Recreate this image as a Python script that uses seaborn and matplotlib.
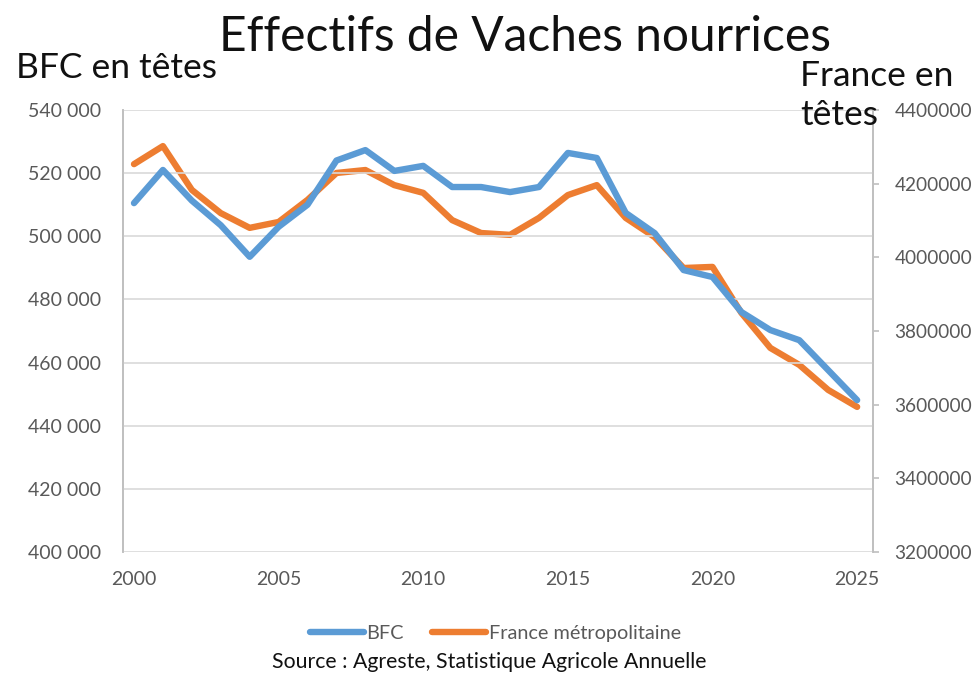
import pandas as pd
import matplotlib.pyplot as plt
import seaborn as sns
from matplotlib.ticker import FuncFormatter, MultipleLocator

# données
annees = list(range(2000, 2026))
bfc = [510500, 521000, 511300, 503500, 493500, 503000, 510000, 524000, 527300, 520700,
       522300, 515600, 515600, 514000, 515600, 526400, 524800, 507400, 501000, 489300,
       487100, 476000, 470300, 467100, 457600, 448100]
france = [4253000, 4302000, 4183000, 4120000, 4080000, 4096000, 4156000, 4229000, 4237000, 4196000,
          4175000, 4101000, 4066000, 4061000, 4107000, 4169000, 4196000, 4107000, 4055000, 3971000,
          3974000, 3849000, 3754000, 3708000, 3640000, 3594000]

df = pd.DataFrame({'annee': annees, 'BFC': bfc, 'France': france})

sns.set_style('white')
plt.rcParams['font.family'] = ['Lato', 'DejaVu Sans']

bleu = '#5B9BD5'
orange = '#ED7D31'
gris = '#595959'

fig = plt.figure(figsize=(9.77, 6.76), dpi=100)
ax1 = fig.add_axes([0.1259, 0.1834, 0.7677, 0.6539])
ax2 = ax1.twinx()

sns.lineplot(data=df, x='annee', y='BFC', ax=ax1, color=bleu, linewidth=4.6,
             label='BFC', legend=False)
sns.lineplot(data=df, x='annee', y='France', ax=ax2, color=orange, linewidth=4.6,
             label='France métropolitaine', legend=False)

# axe gauche
ax1.set_ylim(400000, 540000)
ax1.yaxis.set_major_locator(MultipleLocator(20000))
ax1.yaxis.set_major_formatter(FuncFormatter(lambda v, p: f'{int(v):,}'.replace(',', ' ')))
ax1.grid(axis='y', color='#d9d9d9', linewidth=1.2)
ax1.set_xlim(1999.62, 2025.55)
ax1.set_xticks([2000, 2005, 2010, 2015, 2020, 2025])
ax1.set_xlabel('')
ax1.set_ylabel('')
ax1.tick_params(axis='both', colors=gris, labelsize=14, length=0)
ax1.tick_params(axis='y', pad=16)
ax1.tick_params(axis='x', pad=14)

# axe droit
ax2.set_ylim(3200000, 4400000)
ax2.yaxis.set_major_locator(MultipleLocator(200000))
ax2.yaxis.set_major_formatter(FuncFormatter(lambda v, p: f'{int(v)}'))
ax2.set_ylabel('')
ax2.tick_params(axis='y', labelcolor=gris, labelsize=13.7, length=4.5, width=1.2,
                pad=11, color='#bfbfbf')

for a in (ax1, ax2):
    for s in ['top', 'bottom']:
        a.spines[s].set_visible(False)
    for s in ['left', 'right']:
        a.spines[s].set_color('#bfbfbf')
        a.spines[s].set_linewidth(1.2)
ax1.set_zorder(ax2.get_zorder() + 1)
ax1.patch.set_visible(False)

# textes
fig.text(0.537, 0.9246, 'Effectifs de Vaches nourrices', ha='center', va='baseline',
         fontsize=34.5, color='#111111')
fig.text(0.016, 0.8846, 'BFC en têtes', ha='left', va='baseline', fontsize=25.5, color='#111111')
fig.text(0.819, 0.8728, 'France en', ha='left', va='baseline', fontsize=25.5, color='#111111')
fig.text(0.819, 0.815, 'têtes', ha='left', va='baseline', fontsize=25.5, color='#111111')

h1, l1 = ax1.get_legend_handles_labels()
h2, l2 = ax2.get_legend_handles_labels()
fig.legend(h1 + h2, l1 + l2, loc='center', bbox_to_anchor=(0.507, 0.0636), ncol=2,
           frameon=False, fontsize=14.3, labelcolor=gris, handlelength=2.7,
           handletextpad=0.15, columnspacing=1.4)
fig.text(0.5005, 0.02, 'Source : Agreste, Statistique Agricole Annuelle', ha='center',
         va='center', fontsize=15.3, color='#111111')

plt.savefig('out.png', dpi=100)
